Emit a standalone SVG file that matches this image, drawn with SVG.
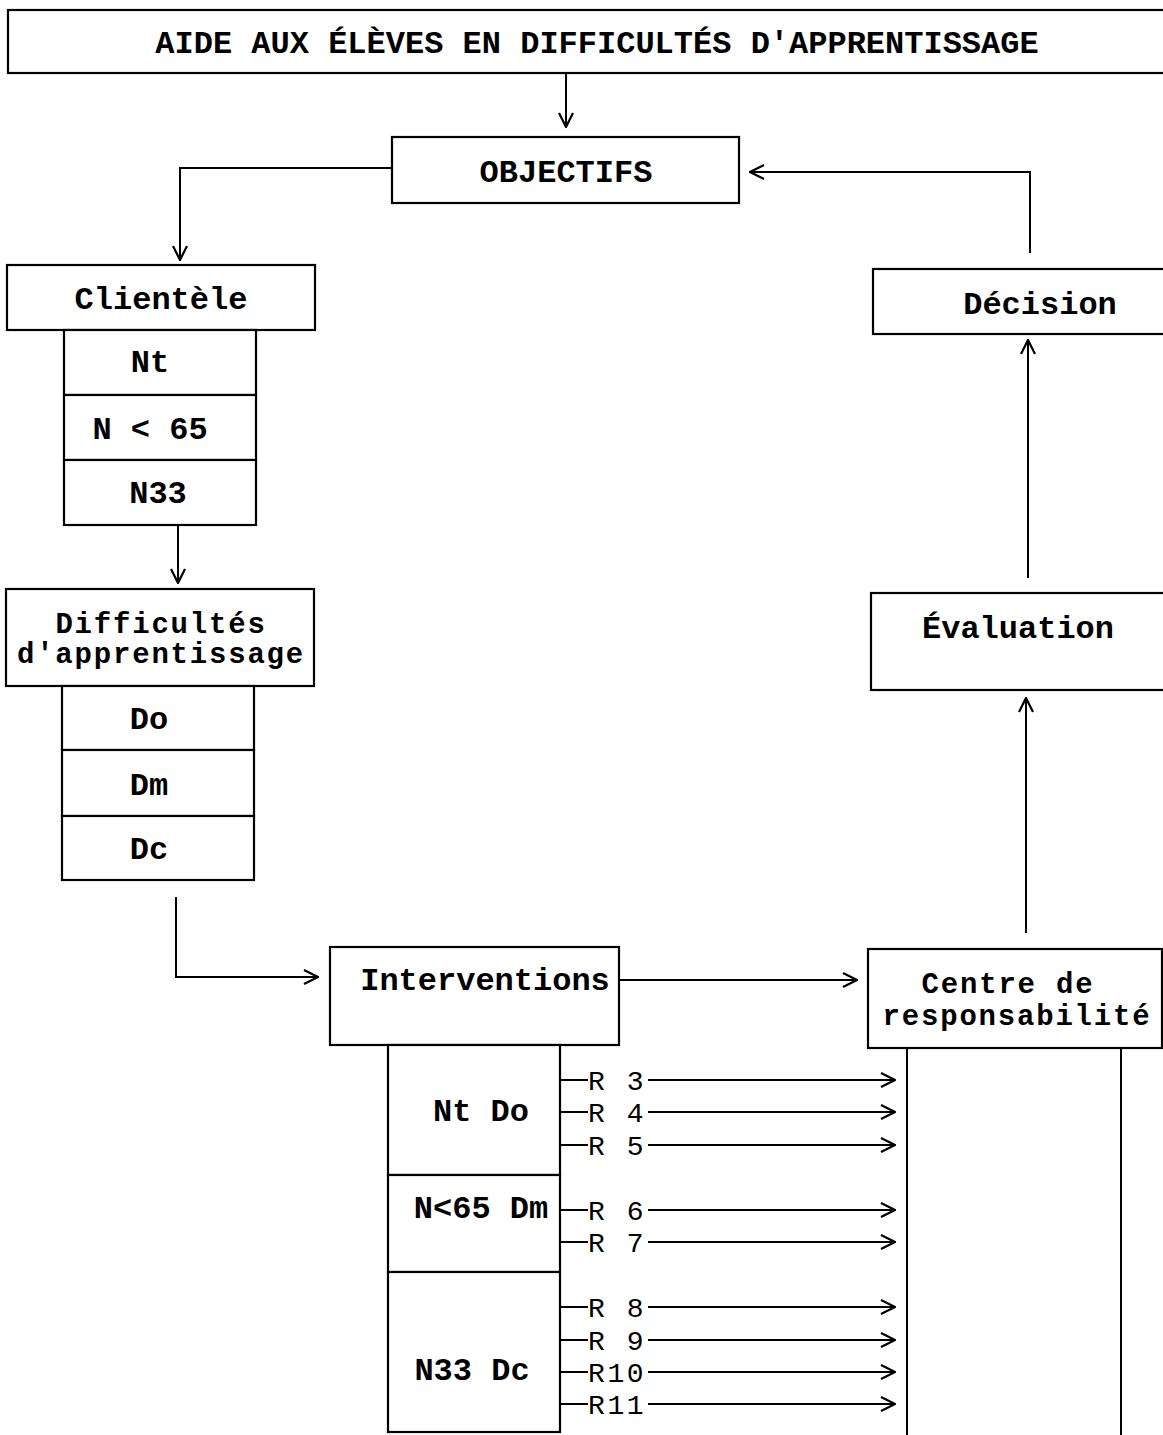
<svg xmlns="http://www.w3.org/2000/svg" width="1163" height="1435" viewBox="0 0 1163 1435">
<style>
.box{fill:#fff;stroke:#000;stroke-width:2.2}
.ln{fill:none;stroke:#000;stroke-width:2}
.t{font-family:"Liberation Mono","Courier New",monospace;font-size:32px;font-weight:bold;fill:#000;text-anchor:middle}
.t2{font-family:"Liberation Mono","Courier New",monospace;font-size:29px;letter-spacing:1.8px;font-weight:bold;fill:#000;text-anchor:middle}
.r{font-family:"Liberation Mono","Courier New",monospace;font-size:28px;letter-spacing:2.6px;font-weight:normal;fill:#000}
</style>
<defs>
<marker id="arr" viewBox="0 0 16 16" refX="15" refY="8" markerWidth="16" markerHeight="16" markerUnits="userSpaceOnUse" orient="auto">
<path d="M1,1 L15,8 L1,15" fill="none" stroke="#000" stroke-width="2.2"/>
</marker>
</defs>
<rect width="1163" height="1435" fill="#fff"/>
<g id="connectors">
<path class="ln" d="M566,73 V127" marker-end="url(#arr)"/>
<path class="ln" d="M392,168 H180 V260" marker-end="url(#arr)"/>
<path class="ln" d="M1030,253 V172 H750" marker-end="url(#arr)"/>
<path class="ln" d="M178,525 V583" marker-end="url(#arr)"/>
<path class="ln" d="M176,897 V977 H318" marker-end="url(#arr)"/>
<path class="ln" d="M619,980 H857" marker-end="url(#arr)"/>
<path class="ln" d="M1026,933 V698" marker-end="url(#arr)"/>
<path class="ln" d="M1028,578 V340" marker-end="url(#arr)"/>
<g id="r-lines">
<path class="ln" d="M560,1080 H588"/><path class="ln" d="M648,1080 H895" marker-end="url(#arr)"/>
<path class="ln" d="M560,1112 H588"/><path class="ln" d="M648,1112 H895" marker-end="url(#arr)"/>
<path class="ln" d="M560,1145 H588"/><path class="ln" d="M648,1145 H895" marker-end="url(#arr)"/>
<path class="ln" d="M560,1210 H588"/><path class="ln" d="M648,1210 H895" marker-end="url(#arr)"/>
<path class="ln" d="M560,1242 H588"/><path class="ln" d="M648,1242 H895" marker-end="url(#arr)"/>
<path class="ln" d="M560,1307 H588"/><path class="ln" d="M648,1307 H895" marker-end="url(#arr)"/>
<path class="ln" d="M560,1340 H588"/><path class="ln" d="M648,1340 H895" marker-end="url(#arr)"/>
<path class="ln" d="M560,1372 H588"/><path class="ln" d="M648,1372 H895" marker-end="url(#arr)"/>
<path class="ln" d="M560,1404 H588"/><path class="ln" d="M648,1404 H895" marker-end="url(#arr)"/>
</g>
</g>
<g id="title">
<rect class="box" x="8" y="10" width="1170" height="63"/>
<text class="t" x="597" y="53">AIDE AUX ÉLÈVES EN DIFFICULTÉS D'APPRENTISSAGE</text>
</g>
<g id="objectifs">
<rect class="box" x="392" y="137" width="347" height="66"/>
<text class="t" x="566" y="182">OBJECTIFS</text>
</g>
<g id="clientele">
<rect class="box" x="7" y="265" width="308" height="65"/>
<text class="t" x="161" y="309">Clientèle</text>
</g>
<g id="clientele-nt">
<rect class="box" x="64" y="330" width="192" height="65"/>
<text class="t" x="150" y="372">Nt</text>
</g>
<g id="clientele-n65">
<rect class="box" x="64" y="395" width="192" height="65"/>
<text class="t" x="150" y="439">N &lt; 65</text>
</g>
<g id="clientele-n33">
<rect class="box" x="64" y="460" width="192" height="65"/>
<text class="t" x="158" y="503">N33</text>
</g>
<g id="difficultes">
<rect class="box" x="6" y="589" width="308" height="97"/>
<text class="t2" x="161" y="633">Difficultés</text>
<text class="t2" x="161" y="663">d'apprentissage</text>
</g>
<g id="diff-do">
<rect class="box" x="62" y="686" width="192" height="64"/>
<text class="t" x="149" y="729">Do</text>
</g>
<g id="diff-dm">
<rect class="box" x="62" y="750" width="192" height="66"/>
<text class="t" x="149" y="795">Dm</text>
</g>
<g id="diff-dc">
<rect class="box" x="62" y="816" width="192" height="64"/>
<text class="t" x="149" y="859">Dc</text>
</g>
<g id="interventions">
<rect class="box" x="330" y="947" width="289" height="98"/>
<text class="t" x="485" y="990">Interventions</text>
</g>
<g id="int-ntdo">
<rect class="box" x="388" y="1045" width="172" height="130"/>
<text class="t" x="481" y="1121">Nt Do</text>
</g>
<g id="int-n65dm">
<rect class="box" x="388" y="1175" width="172" height="97"/>
<text class="t" x="481" y="1218">N&lt;65 Dm</text>
</g>
<g id="int-n33dc">
<rect class="box" x="388" y="1272" width="172" height="160"/>
<text class="t" x="472" y="1380">N33 Dc</text>
</g>
<g id="r-labels">
<text class="r" x="588" y="1090">R 3</text>
<text class="r" x="588" y="1122">R 4</text>
<text class="r" x="588" y="1155">R 5</text>
<text class="r" x="588" y="1220">R 6</text>
<text class="r" x="588" y="1252">R 7</text>
<text class="r" x="588" y="1317">R 8</text>
<text class="r" x="588" y="1350">R 9</text>
<text class="r" x="588" y="1382">R10</text>
<text class="r" x="588" y="1414">R11</text>
</g>
<g id="centre">
<rect class="box" x="868" y="949" width="294" height="99"/>
<text class="t2" x="1008" y="993">Centre de</text>
<text class="t2" x="1017" y="1025">responsabilité</text>
<path class="ln" d="M907,1048 V1440 M1121,1048 V1440"/>
</g>
<g id="evaluation">
<rect class="box" x="871" y="593" width="300" height="97"/>
<text class="t" x="1018" y="638">Évaluation</text>
</g>
<g id="decision">
<rect class="box" x="873" y="269" width="300" height="65"/>
<text class="t" x="1040" y="314">Décision</text>
</g>
</svg>
